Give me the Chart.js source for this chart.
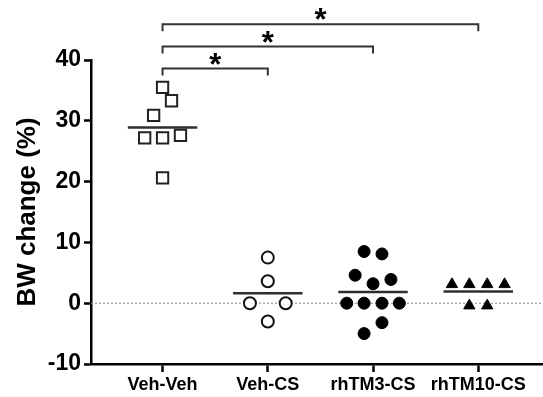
<!DOCTYPE html>
<html>
<head>
<meta charset="utf-8">
<script src="https://cdn.jsdelivr.net/npm/chart.js@4/dist/chart.umd.min.js"></script>
<style>
  body { margin: 0; background: #fff; }
  #wrap { width: 543px; height: 397px; }
</style>
</head>
<body>
<div id="wrap"><canvas id="myChart" width="543" height="397"></canvas></div>
<script>
// group names on the x axis
var categories = ["Veh-Veh", "Veh-CS", "rhTM3-CS", "rhTM10-CS"];

// BW change (%) per animal, and the sideways spread of each dot (in category units)
var vehVeh = [35.5, 33.3, 30.9, 27.2, 27.2, 27.6, 20.6];
var vehVehX = [0, 0.085, -0.085, -0.17, 0, 0.17, 0];
var vehCS = [7.5, 3.6, 0, 0, -3.0];
var vehCSX = [0, 0, -0.17, 0.17, 0];
var tm3CS = [8.5, 8.1, 4.6, 3.9, 3.2, 0, 0, 0, 0, -3.2, -5.0];
var tm3CSX = [-0.085, 0.085, -0.17, 0.17, 0, -0.25, -0.085, 0.085, 0.25, 0.085, -0.085];
var tm10CS = [3.1, 3.1, 3.1, 3.1, -0.4, -0.4];
var tm10CSX = [-0.25, -0.085, 0.085, 0.25, -0.085, 0.085];

// y axis
var yTicks = [-10, 0, 10, 20, 30, 40];

// significance brackets: from group, to group, height, label
var bracketFrom = [1, 1, 1];
var bracketTo = [2, 3, 4];
var bracketY = [38.6, 42.2, 45.9];
var bracketText = ["*", "*", "*"];

var FONT = "'Liberation Sans', Arial, sans-serif";
var X_MIN = 0.32, X_MAX = 4.615;
var MEAN_HALF = 0.33;

function toPoints(values, offsets, group) {
  return values.map(function (v, i) {
    return { x: group + offsets[i], y: v };
  });
}

function mean(values) {
  var s = 0;
  values.forEach(function (v) { s += v; });
  return s / values.length;
}

function meanLine(values, group) {
  var m = mean(values);
  return {
    type: "line",
    data: [{ x: group - MEAN_HALF, y: m }, { x: group + MEAN_HALF, y: m }],
    borderColor: "#2e2e2e",
    borderWidth: 2.5,
    pointRadius: 0,
    order: 1,
  };
}

// brackets + asterisks above the plot
var bracketPlugin = {
  id: "brackets",
  afterDatasetsDraw: function (chart) {
    var ctx = chart.ctx;
    var xs = chart.scales.x;
    var ys = chart.scales.y;
    ctx.save();
    ctx.strokeStyle = "#333";
    ctx.lineWidth = 2;
    ctx.fillStyle = "#000";
    ctx.font = "bold 31px " + FONT;
    ctx.textAlign = "center";
    ctx.textBaseline = "alphabetic";
    for (var i = 0; i < bracketFrom.length; i++) {
      var x1 = xs.getPixelForValue(bracketFrom[i]);
      var x2 = xs.getPixelForValue(bracketTo[i]);
      var y = ys.getPixelForValue(bracketY[i]);
      ctx.beginPath();
      ctx.moveTo(x1, y + 7);
      ctx.lineTo(x1, y);
      ctx.lineTo(x2, y);
      ctx.lineTo(x2, y + 7);
      ctx.stroke();
      ctx.fillText(bracketText[i], (x1 + x2) / 2, y + 6);
    }
    ctx.restore();
  },
};

var ctx = document.getElementById("myChart").getContext("2d");
var chart = new Chart(ctx, {
  type: "scatter",
  data: {
    datasets: [
      {
        data: toPoints(vehVeh, vehVehX, 1),
        pointStyle: "rect",
        pointRadius: 8,
        pointBackgroundColor: "#fff",
        pointBorderColor: "#222",
        pointBorderWidth: 2,
        order: 0,
      },
      {
        data: toPoints(vehCS, vehCSX, 2),
        pointStyle: "circle",
        pointRadius: 6,
        pointBackgroundColor: "#fff",
        pointBorderColor: "#111",
        pointBorderWidth: 2,
        order: 0,
      },
      {
        data: toPoints(tm3CS, tm3CSX, 3),
        pointStyle: "circle",
        pointRadius: 6,
        pointBackgroundColor: "#000",
        pointBorderColor: "#000",
        pointBorderWidth: 1,
        order: 0,
      },
      {
        data: toPoints(tm10CS, tm10CSX, 4),
        pointStyle: "triangle",
        pointRadius: 6.5,
        pointBackgroundColor: "#000",
        pointBorderColor: "#000",
        pointBorderWidth: 1,
        order: 0,
      },
      meanLine(vehVeh, 1),
      meanLine(vehCS, 2),
      meanLine(tm3CS, 3),
      meanLine(tm10CS, 4),
      {
        // dotted zero line
        type: "line",
        data: [{ x: X_MIN, y: 0 }, { x: X_MAX, y: 0 }],
        borderColor: "#888",
        borderWidth: 1,
        borderDash: [2, 2],
        pointRadius: 0,
        order: 2,
      },
    ],
  },
  options: {
    responsive: false,
    animation: false,
    layout: { autoPadding: false, padding: { top: 60, right: 0, left: 0, bottom: 0 } },
    plugins: {
      legend: { display: false },
      tooltip: { enabled: false },
    },
    scales: {
      x: {
        type: "linear",
        min: X_MIN,
        max: X_MAX,
        afterBuildTicks: function (scale) {
          scale.ticks = categories.map(function (c, i) { return { value: i + 1 }; });
        },
        afterFit: function (scale) {
          scale.height = 33;
          scale.paddingLeft = 0;
          scale.paddingRight = 0;
        },
        ticks: {
          autoSkip: false,
          maxRotation: 0,
          padding: 2,
          color: "#000",
          font: { family: FONT, size: 18, weight: "bold" },
          callback: function (v) { return categories[v - 1] || ""; },
        },
        grid: {
          drawOnChartArea: false,
          drawTicks: true,
          tickLength: 8,
          tickWidth: 2.5,
          tickColor: "#000",
        },
        border: { color: "#000", width: 2.5 },
      },
      y: {
        min: -10,
        max: 40,
        afterBuildTicks: function (scale) {
          scale.ticks = yTicks.map(function (v) { return { value: v }; });
        },
        afterFit: function (scale) {
          scale.width = 91;
          scale.paddingTop = 0;
          scale.paddingBottom = 0;
        },
        ticks: {
          padding: 3,
          color: "#000",
          font: { family: FONT, size: 23, weight: "bold" },
        },
        grid: {
          drawOnChartArea: false,
          drawTicks: true,
          tickLength: 7,
          tickWidth: 2.5,
          tickColor: "#000",
        },
        border: { color: "#000", width: 2.5 },
        title: {
          display: true,
          text: "BW change (%)",
          color: "#000",
          padding: { top: 12, bottom: 0 },
          font: { family: FONT, size: 26, weight: "bold" },
        },
      },
    },
  },
  plugins: [bracketPlugin],
});
</script>
</body>
</html>
